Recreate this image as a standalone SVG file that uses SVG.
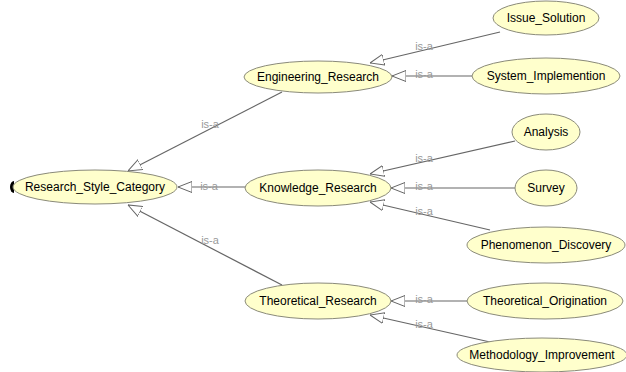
<svg xmlns="http://www.w3.org/2000/svg" width="626" height="372" viewBox="0 0 626 372">
<style>
.n ellipse{fill:#ffffcc;stroke:#8a8a7a;stroke-width:1}
.n text{font-family:"Liberation Sans",Arial,sans-serif;font-size:12px;fill:#000;text-anchor:middle;dominant-baseline:central}
.e path{fill:none;stroke:#666;stroke-width:1.2;marker-end:url(#tri)}
.e text{font-family:"Liberation Sans",Arial,sans-serif;font-size:11px;fill:#999;text-anchor:middle;dominant-baseline:central}
</style>
<defs>
<marker id="tri" viewBox="0 0 14 12" refX="14" refY="6" markerWidth="14" markerHeight="12" markerUnits="userSpaceOnUse" orient="auto">
<path d="M0,0.5 L14,6 L0,11.5 Z" fill="#fff" stroke="#666" stroke-width="1"/>
</marker>
</defs>
<rect width="626" height="372" fill="#fff"/>
<g id="edges" class="e">
<path d="M282,92 L128,171"/><text x="210" y="124">is-a</text>
<path d="M245,187 L178,187"/><text x="209" y="186">is-a</text>
<path d="M282,285 L128,205"/><text x="210" y="240">is-a</text>
<path d="M500,32 L370,63"/><text x="424" y="46">is-a</text>
<path d="M472,76 L392,76"/><text x="424" y="74">is-a</text>
<path d="M515,141 L370,174"/><text x="424" y="158">is-a</text>
<path d="M515,188 L391,188"/><text x="424" y="186">is-a</text>
<path d="M490,230 L370,202"/><text x="424" y="211">is-a</text>
<path d="M467,301 L391,301"/><text x="424" y="299">is-a</text>
<path d="M490,342 L370,315"/><text x="424" y="324">is-a</text>
</g>
<g id="n_rsc" class="n"><path d="M14,181 A4,6 0 0 0 14,193 Z" fill="#000"/><ellipse cx="95" cy="187" rx="82" ry="17"/><text x="95" y="187">Research_Style_Category</text></g>
<g id="n_eng" class="n"><ellipse cx="318" cy="77" rx="74" ry="16"/><text x="318" y="77">Engineering_Research</text></g>
<g id="n_know" class="n"><ellipse cx="318" cy="188" rx="73" ry="18"/><text x="318" y="188">Knowledge_Research</text></g>
<g id="n_theo" class="n"><ellipse cx="318" cy="301" rx="73" ry="18"/><text x="318" y="301">Theoretical_Research</text></g>
<g id="n_issue" class="n"><ellipse cx="546" cy="18" rx="53" ry="17"/><text x="546" y="18">Issue_Solution</text></g>
<g id="n_sys" class="n"><ellipse cx="546" cy="76" rx="74" ry="18"/><text x="546" y="76">System_Implemention</text></g>
<g id="n_analysis" class="n"><ellipse cx="546" cy="132" rx="34" ry="18"/><text x="546" y="132">Analysis</text></g>
<g id="n_survey" class="n"><ellipse cx="546" cy="188" rx="31" ry="18"/><text x="546" y="188">Survey</text></g>
<g id="n_phen" class="n"><ellipse cx="546" cy="245" rx="79" ry="18"/><text x="546" y="245">Phenomenon_Discovery</text></g>
<g id="n_torig" class="n"><ellipse cx="545" cy="301" rx="78" ry="18"/><text x="545" y="301">Theoretical_Origination</text></g>
<g id="n_meth" class="n"><ellipse cx="542" cy="355" rx="85" ry="17"/><text x="542" y="355">Methodology_Improvement</text></g>
</svg>
